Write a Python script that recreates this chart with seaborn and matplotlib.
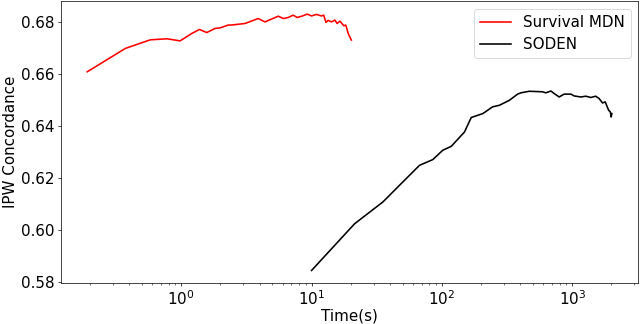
import pandas as pd
import numpy as np
import matplotlib
matplotlib.use("Agg")
import matplotlib.pyplot as plt
import seaborn as sns

# =========================
# DATA
# =========================

mdn_time = [0.19, 0.373, 0.579, 0.778, 0.98, 1.21, 1.38, 1.57, 1.82, 1.99, 2.30,
            2.44, 3.09, 3.90, 4.39, 5.55, 6.07, 6.62, 7.23, 7.76, 8.53, 9.26,
            10.0, 10.9, 11.9, 12.4, 12.9, 13.4, 14.2, 15.1, 15.7, 16.5, 17.7,
            18.3, 19.1, 19.6, 20.2]
mdn_conc = [0.6610, 0.6700, 0.6733, 0.6737, 0.6729, 0.6758, 0.6773, 0.6761, 0.6777, 0.6779, 0.6790,
            0.6790, 0.6796, 0.6815, 0.6802, 0.6824, 0.6815, 0.6819, 0.6828, 0.6819, 0.6825, 0.6832,
            0.6825, 0.6831, 0.6825, 0.6828, 0.6800, 0.6808, 0.6802, 0.6809, 0.6796, 0.6805, 0.6787,
            0.6790, 0.6758, 0.6745, 0.6732]

soden_time = [10.0, 21.4, 35.3, 50.2, 67.4, 85.2, 101.6, 118, 149, 168, 206, 245, 276,
              329, 381, 404, 468, 591, 628, 686, 728, 794, 867, 977, 1035, 1165,
              1271, 1387, 1514, 1608, 1708, 1792, 1835, 1902, 1962, 1990, 2014]
soden_conc = [0.5845, 0.6025, 0.6109, 0.6186, 0.6250, 0.6272, 0.6308, 0.6323, 0.6378, 0.6434, 0.6449, 0.6475, 0.6481,
              0.6500, 0.6524, 0.6529, 0.6535, 0.6533, 0.6529, 0.6536, 0.6526, 0.6513, 0.6524, 0.6524, 0.6517, 0.6513,
              0.6516, 0.6511, 0.6516, 0.6507, 0.6490, 0.6494, 0.6481, 0.6462, 0.6455, 0.6436, 0.6449]

df = pd.concat([
    pd.DataFrame({"Time": mdn_time, "Concordance": mdn_conc, "Model": "Survival MDN"}),
    pd.DataFrame({"Time": soden_time, "Concordance": soden_conc, "Model": "SODEN"}),
], ignore_index=True)

# =========================
# PLOT
# =========================

plt.rcParams['font.family'] = ['DejaVu Sans']
plt.rcParams['font.size'] = 17

fig, ax = plt.subplots(figsize=(10, 5.0625), dpi=64)
fig.subplots_adjust(left=0.0953, right=0.997, bottom=0.1256, top=0.996)

sns.lineplot(
    data=df,
    x="Time",
    y="Concordance",
    hue="Model",
    palette={"Survival MDN": "red", "SODEN": "black"},
    estimator=None,
    sort=False,
    linewidth=1.8,
    ax=ax
)

ax.set_xscale("log")
ax.set_xlabel("Time(s)", fontsize=17, labelpad=0)
ax.set_ylabel("IPW Concordance", fontsize=17)
ax.tick_params(labelsize=17)
ax.legend(loc="upper right", fontsize=17, title=None)

fig.savefig("out.png", dpi=64)
